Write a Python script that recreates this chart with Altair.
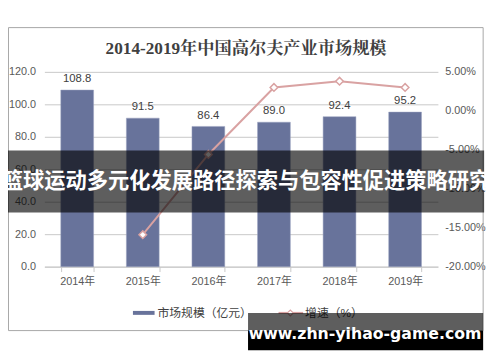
import altair as alt
import pandas as pd

years = ["2014年", "2015年", "2016年", "2017年", "2018年", "2019年"]
market = [108.8, 91.5, 86.4, 89.0, 92.4, 95.2]
growth = [None, -0.159, -0.056, 0.030, 0.038, 0.030]
left_ticks = [0, 20, 40, 60, 80, 100, 120]
right_ticks = [-0.20, -0.15, -0.10, -0.05, 0.0, 0.05]

title_text = "2014-2019年中国高尔夫产业市场规模"
legend_bar = "市场规模（亿元）"
legend_line = "增速（%）"
banner_text = "篮球运动多元化发展路径探索与包容性促进策略研究"
watermark = "www.zhn-yihao-game.com"

df = pd.DataFrame({"year": years, "market": market})
dg = pd.DataFrame({"year": years[1:], "growth": growth[1:]})
one = pd.DataFrame({"a": [0]})

BAR = "#68739B"
PINK = "#D9A2A2"
GRID = "#C8C8C8"
TXT = "#404040"
LAB = "#595959"
FONT = "Liberation Sans, Noto Sans CJK SC"
FS = 11

LDOM = alt.Scale(domain=[0, 120], nice=False)
RDOM = alt.Scale(domain=[-0.2, 0.05], zero=False, nice=False)

xenc = alt.X(
    "year:N", sort=years,
    scale=alt.Scale(paddingInner=0.5, paddingOuter=0.25),
    axis=alt.Axis(title=None, labelAngle=0, domainColor=GRID, tickColor=GRID,
                  tickSize=5, tickBand="extent", labelPadding=4, labelFont=FONT,
                  labelFontSize=FS, labelColor=LAB, grid=False),
)

bars = alt.Chart(df).mark_bar(color=BAR, stroke="#9AA3C0", strokeWidth=0.5).encode(
    x=xenc,
    y=alt.Y("market:Q", scale=LDOM,
            axis=alt.Axis(title=None, values=left_ticks, format=".1f", grid=True,
                          gridColor=GRID, domain=False, ticks=False, labelPadding=9,
                          labelOverlap=False, labelFont=FONT, labelFontSize=FS,
                          labelColor=LAB)),
)
bar_labels = alt.Chart(df).mark_text(baseline="bottom", dy=-6, fontSize=11.5, font=FONT,
                                     color=TXT).encode(
    x=alt.X("year:N", sort=years),
    y=alt.Y("market:Q", scale=LDOM, axis=None),
    text=alt.Text("market:Q", format=".1f"),
)

line = alt.Chart(dg).mark_line(color=PINK, strokeWidth=2).encode(
    x=alt.X("year:N", sort=years),
    y=alt.Y("growth:Q", scale=RDOM,
            axis=alt.Axis(title=None, orient="right", values=right_ticks, grid=False,
                          domain=False, ticks=False, labelPadding=7, labelOverlap=False,
                          labelFont=FONT, labelFontSize=FS, labelColor=LAB,
                          labelExpr="replace(format(datum.value, '.2%'), '\u2212', '-')")),
)
pts = alt.Chart(dg).mark_point(shape="diamond", filled=True, fill="white", stroke=PINK,
                               strokeWidth=1.5, size=60, opacity=1).encode(
    x=alt.X("year:N", sort=years),
    y=alt.Y("growth:Q", scale=RDOM, axis=None),
)

border = alt.Chart(one).mark_rect(fill="transparent", stroke="#A6A6A6", strokeWidth=1).encode(
    x=alt.value(-36.5), x2=alt.value(446), y=alt.value(-45), y2=alt.value(263))

title = alt.Chart(one).mark_text(text=title_text, fontSize=17.5, fontWeight="bold",
                                 font="Liberation Serif, Noto Serif CJK SC, Noto Sans CJK SC",
                                 color=TXT, align="center", baseline="middle").encode(
    x=alt.value(205), y=alt.value(-23))

leg_rect = alt.Chart(one).mark_rect(color=BAR).encode(
    x=alt.value(90), x2=alt.value(112), y=alt.value(243), y2=alt.value(247))
leg_t1 = alt.Chart(one).mark_text(text=legend_bar, fontSize=12, font=FONT, color=TXT,
                                  align="left", baseline="middle").encode(
    x=alt.value(115), y=alt.value(245))
leg_rule = alt.Chart(one).mark_rule(color=PINK, strokeWidth=2).encode(
    x=alt.value(238), x2=alt.value(263), y=alt.value(245))
leg_pt = alt.Chart(one).mark_point(shape="diamond", filled=True, fill="white", stroke=PINK,
                                   strokeWidth=1.2, size=35, opacity=1).encode(
    x=alt.value(250), y=alt.value(245))
leg_t2 = alt.Chart(one).mark_text(text=legend_line, fontSize=12, font=FONT, color=TXT,
                                  align="left", baseline="middle").encode(
    x=alt.value(265), y=alt.value(245))

banner = alt.Chart(one).mark_rect(color="black", opacity=0.63).encode(
    x=alt.value(-37), x2=alt.value(447), y=alt.value(80), y2=alt.value(143))
banner_t = alt.Chart(one).mark_text(text=banner_text, fontSize=21.6, fontWeight="bold",
                                    font="Noto Sans CJK SC", color="white",
                                    align="center", baseline="middle").encode(
    x=alt.value(205), y=alt.value(112))

wm1 = alt.Chart(one).mark_rect(color="black", opacity=0.63).encode(
    x=alt.value(207), x2=alt.value(446), y=alt.value(245), y2=alt.value(263))
wm2 = alt.Chart(one).mark_rect(color="black").encode(
    x=alt.value(207), x2=alt.value(446), y=alt.value(263), y2=alt.value(283))
wm_t = alt.Chart(one).mark_text(text=watermark, fontSize=16, fontWeight="bold",
                                font="DejaVu Sans", color="white",
                                align="center", baseline="middle").encode(
    x=alt.value(326), y=alt.value(267))

chart = alt.layer(
    border, title, bars, bar_labels, line, pts,
    leg_rect, leg_t1, leg_rule, leg_pt, leg_t2,
    banner, banner_t, wm1, wm2, wm_t,
).resolve_scale(y="independent").properties(
    width=400, height=198,
    autosize=alt.AutoSizeParams(type="none"),
    padding={"left": 37, "top": 62, "right": 55, "bottom": 94},
).configure_view(stroke=None)

chart.save("out.html", embed_options={"renderer": "svg", "actions": False})
